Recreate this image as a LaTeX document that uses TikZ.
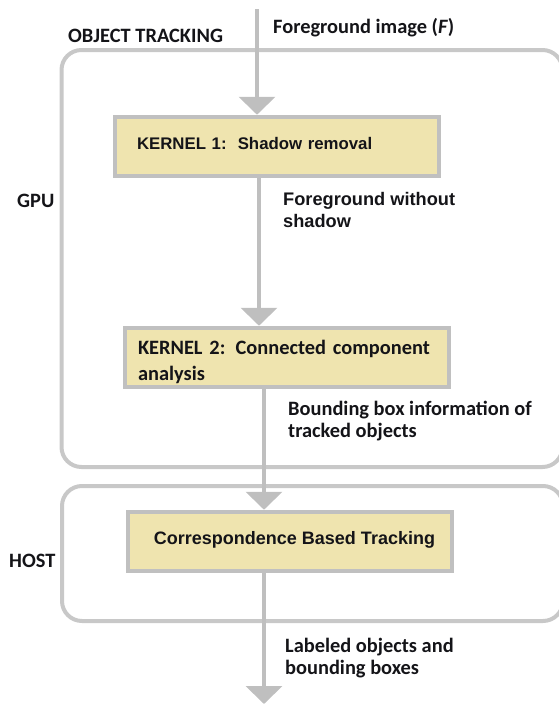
\documentclass[tikz,border=0pt]{standalone}
\usepackage{fontspec}
\setmainfont{Carlito}
\newfontfamily\arialfam{Liberation Sans}
\usetikzlibrary{arrows.meta}

\definecolor{framegray}{RGB}{200,200,200}
\definecolor{boxgray}{RGB}{192,192,192}
\definecolor{flowgray}{RGB}{191,191,191}
\definecolor{kfill}{RGB}{239,228,175}
\definecolor{ink}{RGB}{20,20,24}

\tikzset{
  frame/.style={draw=framegray, line width=4pt, rounded corners=20pt,
    minimum width=501pt, inner sep=0pt},
  kbox/.style={draw=boxgray, line width=4.5pt, fill=kfill, text=ink,
    minimum width=324pt, minimum height=59pt, align=left, inner ysep=0pt},
  flow/.style={draw=flowgray, line width=4pt,
    -{Triangle[width=36pt,length=18pt]}},
  lbl/.style={inner sep=0pt, anchor=base west, align=left, text=ink},
  cal/.style={font=\fontsize{20.4}{22}\selectfont\bfseries},
  ari/.style={font=\arialfam\fontsize{18.2}{22}\selectfont\bfseries},
}

\begin{document}
\begin{tikzpicture}[x=1pt,y=-1pt]
  \useasboundingbox (0,0) rectangle (558,704);

  % GPU and host regions
  \node[frame, minimum height=417pt, anchor=north west] (gpu) at (59.5,48) {};
  \node[frame, minimum height=135pt, anchor=north west] (host) at (60,484) {};

  % region titles
  \node[lbl, cal] (title) at (68,42.5) {OBJECT TRACKING};
  \node[lbl, cal] (gpulbl) at (17,207) {GPU};
  \node[lbl, cal] (hostlbl) at (9,567) {HOST};

  % processing stages
  \node[kbox, font=\arialfam\fontsize{16.8}{22}\selectfont\bfseries,
        text width=280pt, inner xsep=22pt, text height=10pt, text depth=5pt]
        (k1) at (277,146.5) {KERNEL 1:\ \ Shadow removal};
  \node[kbox, font=\fontsize{20.4}{26}\selectfont\bfseries,
        text width=298pt, inner xsep=13pt, text height=14pt, text depth=21pt]
        (k2) at (287,357.5) {KERNEL 2: Connected component\\analysis};
  \node[kbox, font=\arialfam\fontsize{18}{22}\selectfont\bfseries,
        text height=10pt, text depth=5pt]
        (cbt) at (290,541.5) {\hspace*{9pt}Correspondence Based Tracking};

  % data flow
  \coordinate (src) at (257,9);
  \coordinate (sink) at (264,704);
  \draw[flow] (src) -- (k1.north -| src);
  \draw[flow] ([xshift=-18pt]k1.south) -- ([xshift=-28pt]k2.north);
  \draw[flow] ([xshift=-23pt]k2.south) -- (cbt.north -| sink);
  \draw[flow] (cbt.south -| sink) -- (sink);

  % data labels (anchored on the baseline of their last line)
  \node[lbl, cal] (fimg) at (273,33.5) {Foreground image (\textit{F})};
  \node[lbl, ari] (fws) at (283,227) {Foreground without\\shadow};
  \node[lbl, cal] (bbi) at (288,437) {Bounding box information of\\tracked objects};
  \node[lbl, cal] (lob) at (285,674) {Labeled objects and\\bounding boxes};
\end{tikzpicture}
\end{document}
